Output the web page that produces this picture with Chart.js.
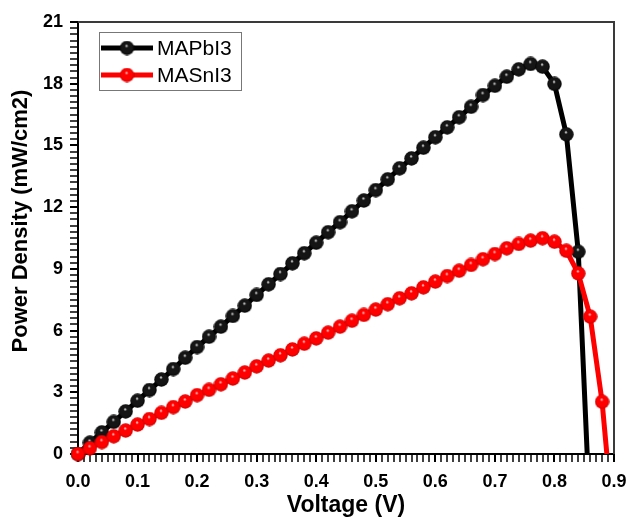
<!DOCTYPE html>
<html>
<head>
<meta charset="utf-8">
<script src="https://cdn.jsdelivr.net/npm/chart.js@4"></script>
<style>
  html, body { margin: 0; padding: 0; background: #fff; }
</style>
</head>
<body>
<canvas id="chart" width="628" height="517"></canvas>
<script>
// === Data ===
const seriesNames = ["MAPbI3", "MASnI3"];

const voltagePb = [0, 0.02, 0.04, 0.06, 0.08, 0.10, 0.12, 0.14, 0.16, 0.18, 0.20, 0.22, 0.24, 0.26, 0.28,
  0.30, 0.32, 0.34, 0.36, 0.38, 0.40, 0.42, 0.44, 0.46, 0.48, 0.50, 0.52, 0.54, 0.56, 0.58,
  0.60, 0.62, 0.64, 0.66, 0.68, 0.70, 0.72, 0.74, 0.76, 0.78, 0.80, 0.82, 0.84, 0.855];
const powerPb = [0, 0.55, 1.05, 1.56, 2.07, 2.59, 3.11, 3.62, 4.13, 4.68, 5.2, 5.7, 6.19, 6.71, 7.21,
  7.73, 8.25, 8.75, 9.27, 9.76, 10.27, 10.78, 11.27, 11.8, 12.32, 12.83, 13.35, 13.89, 14.37, 14.89,
  15.4, 15.88, 16.37, 16.88, 17.45, 17.9, 18.34, 18.7, 18.96, 18.83, 17.99, 15.54, 9.83, 0];

const voltageSn = [0, 0.02, 0.04, 0.06, 0.08, 0.10, 0.12, 0.14, 0.16, 0.18, 0.20, 0.22, 0.24, 0.26, 0.28,
  0.30, 0.32, 0.34, 0.36, 0.38, 0.40, 0.42, 0.44, 0.46, 0.48, 0.50, 0.52, 0.54, 0.56, 0.58,
  0.60, 0.62, 0.64, 0.66, 0.68, 0.70, 0.72, 0.74, 0.76, 0.78, 0.80, 0.82, 0.84, 0.86, 0.88, 0.888];
const powerSn = [0, 0.28, 0.58, 0.86, 1.14, 1.43, 1.7, 2.0, 2.28, 2.55, 2.86, 3.12, 3.39, 3.67, 3.96,
  4.26, 4.54, 4.8, 5.08, 5.36, 5.62, 5.9, 6.19, 6.48, 6.76, 7.02, 7.28, 7.57, 7.81, 8.1,
  8.38, 8.65, 8.91, 9.19, 9.47, 9.72, 10.0, 10.21, 10.37, 10.49, 10.32, 9.88, 8.78, 6.68, 2.54, 0];

const xMajorStep = 0.1, xMinorPerMajor = 10;   // labels 0.0 .. 0.9, minor every 0.01
const yMajorStep = 3, yMinorPerMajor = 10;     // labels 0 .. 21, minor every 0.3
const xMax = 0.9, yMax = 21;

const FONT = "'Liberation Sans', Arial, sans-serif";

// tick positions (major + minor) handed to the scales
function tickList(max, majorStep, perMajor) {
  const n = Math.round(max / majorStep) * perMajor;
  const out = [];
  for (let i = 0; i <= n; i++) {
    out.push({ value: i * majorStep / perMajor, major: i % perMajor === 0 });
  }
  return out;
}
const xTicks = tickList(xMax, xMajorStep, xMinorPerMajor);
const yTicks = tickList(yMax, yMajorStep, yMinorPerMajor);

// === Shiny ball markers ===
function makeBall(base, dark, light) {
  const c = document.createElement("canvas");
  c.width = 15; c.height = 15;
  const g = c.getContext("2d");
  const grad = g.createRadialGradient(7, 5.2, 0.3, 7.5, 7.5, 7.5);
  grad.addColorStop(0, light);
  grad.addColorStop(0.2, base);
  grad.addColorStop(0.72, base);
  grad.addColorStop(1, dark);
  g.fillStyle = grad;
  g.beginPath();
  g.arc(7.5, 7.5, 7.2, 0, Math.PI * 2);
  g.fill();
  return c;
}
const ballBlack = makeBall("#151515", "#000000", "#e0e0e0");
const ballRed = makeBall("#ff0000", "#c80000", "#ffd6d6");

function toPoints(xs, ys) {
  return xs.map((x, i) => ({ x: x, y: ys[i] }));
}

// last point of each curve is the Voc crossing: no marker there
function radiusFor(c) {
  return (c.dataIndex > 0 && c.raw && c.raw.y === 0) ? 0 : 7;
}

function isMajor(c) {
  return c.tick && c.tick.major;
}

// === frame + y title + legend ===
const decorPlugin = {
  id: "decor",
  afterDatasetsDraw(chart) {
    const ctx = chart.ctx;
    const xs = chart.scales.x, ys = chart.scales.y;
    const L = xs.left, R = xs.right, T = ys.top, B = ys.bottom;

    // frame top / right
    ctx.save();
    ctx.fillStyle = "#3a3a3a";
    ctx.fillRect(L, T - 1, R - L + 1, 2);
    ctx.fillRect(R - 1, T - 1, 2, B - T + 1);
    ctx.restore();

    // y axis title
    ctx.save();
    ctx.fillStyle = "#000";
    ctx.font = "bold 22px " + FONT;
    ctx.textAlign = "center";
    ctx.textBaseline = "middle";
    ctx.translate(21, 221);
    ctx.rotate(-Math.PI / 2);
    ctx.fillText("Power Density (mW/cm2)", 0, 0);
    ctx.restore();

    // legend
    ctx.save();
    ctx.fillStyle = "#fff";
    ctx.fillRect(99, 32, 142, 58);
    ctx.strokeStyle = "#777";
    ctx.lineWidth = 1;
    ctx.strokeRect(99.5, 32.5, 142, 58);
    [0, 1].forEach((r) => {
      const ds = chart.data.datasets.find((d) => d.label === seriesNames[r]);
      const cy = 48 + r * 27;
      ctx.strokeStyle = ds.borderColor;
      ctx.lineWidth = 5;
      ctx.beginPath();
      ctx.moveTo(101, cy);
      ctx.lineTo(153, cy);
      ctx.stroke();
      ctx.drawImage(ds.pointStyle, 127 - 7.5, cy - 7.5);
      ctx.fillStyle = "#000";
      ctx.font = "21px " + FONT;
      ctx.textAlign = "left";
      ctx.textBaseline = "middle";
      ctx.fillText(ds.label, 157, cy + 1);
    });
    ctx.restore();
  }
};

// === Chart ===
new Chart(document.getElementById("chart"), {
  type: "line",
  data: {
    datasets: [
      {
        label: seriesNames[1],
        data: toPoints(voltageSn, powerSn),
        borderColor: "#ff0000",
        borderWidth: 5,
        pointStyle: ballRed,
        pointRadius: radiusFor,
        order: 0,
        clip: false
      },
      {
        label: seriesNames[0],
        data: toPoints(voltagePb, powerPb),
        borderColor: "#000000",
        borderWidth: 5,
        pointStyle: ballBlack,
        pointRadius: radiusFor,
        order: 1,
        clip: false
      }
    ]
  },
  options: {
    responsive: false,
    animation: false,
    layout: { padding: { top: 22, right: 14, left: 0, bottom: 0 } },
    plugins: { legend: { display: false }, tooltip: { enabled: false } },
    scales: {
      x: {
        type: "linear",
        min: 0,
        max: xMax,
        afterFit(scale) { scale.height = 63; scale.paddingLeft = 0; scale.paddingRight = 0; },
        afterBuildTicks(scale) { scale.ticks = xTicks.map((t) => ({ value: t.value, major: t.major })); },
        ticks: {
          autoSkip: false,
          color: "#000",
          font: { family: FONT, size: 18, weight: "bold" },
          padding: 9,
          maxRotation: 0,
          minRotation: 0,
          callback: function (v, i) { return xTicks[i] && xTicks[i].major ? Number(v).toFixed(1) : ""; }
        },
        grid: {
          drawOnChartArea: false,
          drawTicks: true,
          tickLength: 8,
          tickColor: "#000",
          tickWidth: (c) => isMajor(c) ? 2 : 1.5,
          color: "#000",
          lineWidth: 2
        },
        border: { display: true, color: "#000", width: 2 },
        title: {
          display: true,
          text: "Voltage (V)",
          color: "#000",
          font: { family: FONT, size: 23, weight: "bold" },
          padding: { top: 0, bottom: -2 }
        }
      },
      y: {
        type: "linear",
        min: 0,
        max: yMax,
        afterFit(scale) { scale.width = 78; scale.paddingTop = 0; scale.paddingBottom = 0; },
        afterBuildTicks(scale) { scale.ticks = yTicks.map((t) => ({ value: t.value, major: t.major })); },
        ticks: {
          autoSkip: false,
          color: "#000",
          font: { family: FONT, size: 18, weight: "bold" },
          padding: 7,
          callback: function (v, i) { return yTicks[i] && yTicks[i].major ? String(Math.round(v)) : ""; }
        },
        grid: {
          drawOnChartArea: false,
          drawTicks: true,
          tickLength: 8,
          tickColor: "#000",
          tickWidth: (c) => isMajor(c) ? 2 : 1.5,
          color: "#000",
          lineWidth: 2
        },
        border: { display: true, color: "#000", width: 2 }
      }
    }
  },
  plugins: [decorPlugin]
});
</script>
</body>
</html>
